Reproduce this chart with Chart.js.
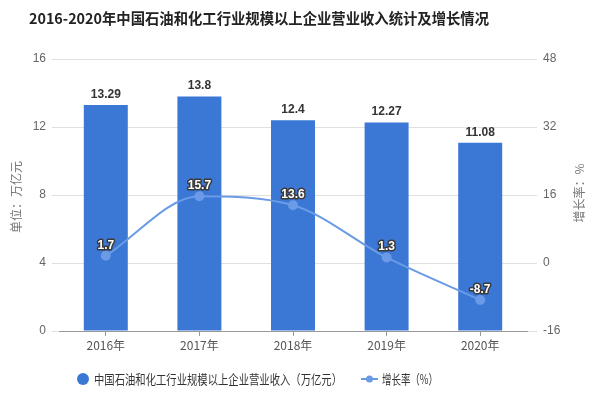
<!DOCTYPE html>
<html><head><meta charset="utf-8">
<script src="https://cdn.jsdelivr.net/npm/chart.js@4/dist/chart.umd.min.js"></script>
<style>html,body{margin:0;padding:0;background:#fff}#wrap{width:599px;height:394px}</style>
</head><body><div id="wrap"><canvas id="c" width="599" height="394"></canvas></div>
<script>
const categories = ['2016年','2017年','2018年','2019年','2020年'];
const revenue = [13.29, 13.8, 12.4, 12.27, 11.08];
const growth = [1.7, 15.7, 13.6, 1.3, -8.7];
const revenueLabels = ['13.29','13.8','12.4','12.27','11.08'];
const growthLabels = ['1.7','15.7','13.6','1.3','-8.7'];
const leftTicks = [0,4,8,12,16];
const rightTicks = [-16,0,16,32,48];
const titleText = '2016-2020年中国石油和化工行业规模以上企业营业收入统计及增长情况';
const leftTitle = '单位：万亿元';
const rightTitle = '增长率：%';
const seriesNames = ['中国石油和化工行业规模以上企业营业收入（万亿元）','增长率（%）'];

const FONT = "'Liberation Sans','Noto Sans CJK SC',sans-serif";
const CJK = "'Noto Sans CJK SC','Liberation Sans',sans-serif";
const BAR = '#3b78d6';
const LINE = '#6b9be6';

const deco = {
  id:'deco',
  afterDraw(chart){
    const ctx = chart.ctx;
    ctx.save();
    // title
    ctx.fillStyle = '#222';
    ctx.font = "bold 15px " + CJK;
    ctx.textAlign = 'left'; ctx.textBaseline = 'middle';
    ctx.fillText(titleText, 29, 18, 460);
    // axis titles
    ctx.fillStyle = '#777';
    ctx.font = "12px " + CJK;
    ctx.textAlign = 'center';
    ctx.save(); ctx.translate(16,197); ctx.rotate(-Math.PI/2); ctx.fillText(leftTitle,0,0); ctx.restore();
    ctx.save(); ctx.translate(579,193); ctx.rotate(-Math.PI/2); ctx.fillText(rightTitle,0,0); ctx.restore();
    // data labels
    const mBar = chart.getDatasetMeta(1), mLine = chart.getDatasetMeta(0);
    ctx.font = "bold 12px " + FONT;
    ctx.textAlign='center'; ctx.textBaseline='alphabetic';
    ctx.fillStyle = '#333';
    mBar.data.forEach((b,i)=>{ ctx.fillText(revenueLabels[i], b.x, b.y-7); });
    ctx.lineWidth = 3; ctx.strokeStyle = '#3a3a3a'; ctx.lineJoin='round';
    mLine.data.forEach((p,i)=>{
      ctx.strokeText(growthLabels[i], p.x, p.y-7);
      ctx.fillStyle='#fff'; ctx.fillText(growthLabels[i], p.x, p.y-7);
    });
    // legend
    ctx.font = "13px " + CJK;
    ctx.textBaseline='middle'; ctx.textAlign='left';
    const ly = 379;
    ctx.fillStyle = BAR;
    ctx.beginPath(); ctx.arc(83, ly, 6, 0, Math.PI*2); ctx.fill();
    ctx.fillStyle = '#333';
    ctx.fillText(seriesNames[0], 94, ly, 248);
    ctx.strokeStyle = LINE; ctx.lineWidth = 2;
    ctx.beginPath(); ctx.moveTo(361, ly); ctx.lineTo(378, ly); ctx.stroke();
    ctx.fillStyle = LINE; ctx.beginPath(); ctx.arc(369.5, ly, 3.5, 0, Math.PI*2); ctx.fill();
    ctx.fillStyle = '#333';
    ctx.fillText(seriesNames[1], 382, ly, 56);
    ctx.restore();
  }
};

new Chart(document.getElementById('c'), {
  data: {
    labels: categories,
    datasets: [
      { type:'line', label: seriesNames[1], data: growth, yAxisID:'y1', borderColor: LINE, backgroundColor: LINE,
        borderWidth: 2, cubicInterpolationMode:'monotone', pointRadius: 4, pointBackgroundColor: LINE, pointBorderColor: LINE, order: 0 },
      { type:'bar', label: seriesNames[0], data: revenue, yAxisID:'y', backgroundColor: BAR,
        barPercentage: 0.47, categoryPercentage: 1, order: 1 }
    ]
  },
  options: {
    responsive:false, animation:false, devicePixelRatio:1,
    layout:{padding:{top:59, left:0, right:0, bottom:0}},
    plugins:{legend:{display:false}, title:{display:false}, tooltip:{enabled:false}},
    scales:{
      x:{ grid:{display:true, drawOnChartArea:false, offset:false, tickLength:5, color:'#999'},
          border:{color:'#999'},
          ticks:{color:'#555', font:{family:CJK, size:12}, padding:2},
          afterFit(s){ s.height = 63; } },
      y:{ position:'left', min:0, max:16, afterBuildTicks(s){ s.ticks = leftTicks.map(v=>({value:v})); },
          grid:{color:'#e0e0e0', tickLength:7}, border:{display:false},
          ticks:{color:'#666', font:{family:FONT, size:12}, padding:6},
          afterFit(s){ s.width = 59; } },
      y1:{ position:'right', min:-16, max:48, afterBuildTicks(s){ s.ticks = rightTicks.map(v=>({value:v})); },
          grid:{drawOnChartArea:false, color:'#e0e0e0', tickLength:10}, border:{display:false},
          ticks:{color:'#666', font:{family:FONT, size:12}, padding:6},
          afterFit(s){ s.width = 72; } }
    }
  },
  plugins:[deco]
});
</script></body></html>
